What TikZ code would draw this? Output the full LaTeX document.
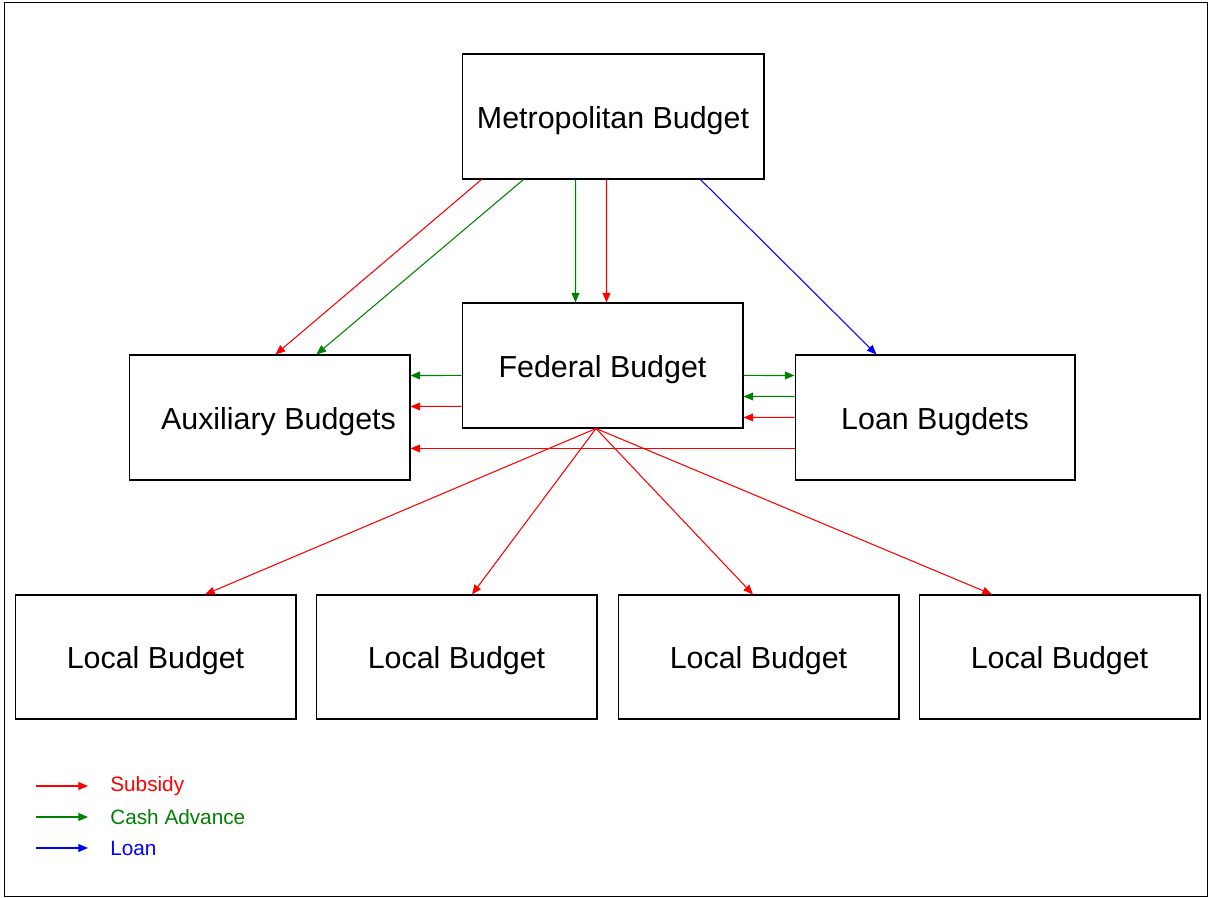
\documentclass[tikz,border=0pt]{standalone}
\usepackage{fontspec}
\setmainfont{Liberation Sans}
\usetikzlibrary{arrows.meta}

\definecolor{cashgreen}{RGB}{0,128,0}

\begin{document}
\begin{tikzpicture}[x=0.02cm, y=-0.02cm, line width=0.6pt,
  budget/.style = {draw, rectangle, minimum width=5.62cm, minimum height=2.5cm, text height=17pt, text depth=3.7pt, font=\fontsize{17.3}{20}\selectfont},
  flow/.style = {-{Triangle[length=5.5pt,width=4.5pt]}},
  sub/.style = {flow, red},
  cash/.style = {flow, cashgreen},
  loan/.style = {flow, blue},
  leg/.style = {anchor=west, font=\fontsize{11.8}{14}\selectfont}]
\useasboundingbox (0,0) rectangle (1211,898);
\draw[line width=0.5pt] (4,2) rectangle (1207,896);

\node[budget, minimum width=6.04cm] (metro) at (613,116.5) {Metropolitan Budget};
\node[budget] (fed) at (602.5,365.5) {Federal Budget};
\node[budget] (aux) at (269.5,417.5) {\hspace*{0.36cm}Auxiliary Budgets};
\node[budget, minimum width=5.6cm] (loanb) at (935,417.5) {Loan Bugdets};
\node[budget, minimum height=2.48cm] (loc1) at (155.5,657) {Local Budget};
\node[budget, minimum height=2.48cm] (loc2) at (456.5,657) {Local Budget};
\node[budget, minimum height=2.48cm] (loc3) at (758.5,657) {Local Budget};
\node[budget, minimum height=2.48cm] (loc4) at (1059.5,657) {Local Budget};

% from the metropolitan budget
\draw[sub] ([xshift=0.4cm]metro.south west) -- ([xshift=2.94cm]aux.north west);
\draw[cash] ([xshift=1.24cm]metro.south west) -- ([xshift=3.76cm]aux.north west);
\draw[cash] ([xshift=2.28cm]metro.south west) -- ([xshift=2.28cm]fed.north west);
\draw[sub] ([xshift=2.9cm]metro.south west) -- ([xshift=2.9cm]fed.north west);
\draw[loan] ([xshift=4.78cm]metro.south west) -- ([xshift=1.64cm]loanb.north west);

% between the middle row
\draw[cash] ([yshift=-1.46cm]fed.north west) -- ([yshift=-0.42cm]aux.north east);
\draw[sub] ([yshift=-2.08cm]fed.north west) -- ([yshift=-1.04cm]aux.north east);
\draw[cash] ([yshift=-1.46cm]fed.north east) -- ([yshift=-0.42cm]loanb.north west);
\draw[cash] ([yshift=-0.84cm]loanb.north west) -- ([yshift=-1.88cm]fed.north east);
\draw[sub] ([yshift=-1.26cm]loanb.north west) -- ([yshift=-2.3cm]fed.north east);
\draw[sub] ([yshift=-1.88cm]loanb.north west) -- ([yshift=-1.88cm]aux.north east);

% to the local budgets
\coordinate (hub) at ([xshift=-0.13cm]fed.south);
\draw[sub] (hub) -- ([xshift=0.99cm]loc1.north);
\draw[sub] (hub) -- ([xshift=0.31cm]loc2.north);
\draw[sub] (hub) -- ([xshift=-0.11cm]loc3.north);
\draw[sub] (hub) -- ([xshift=-1.35cm]loc4.north);

% legend
\node[leg, text=red] (l1) at (104,786) {Subsidy};
\node[leg, text=cashgreen] (l2) at (104,817) {Cash Advance};
\node[leg, text=blue] (l3) at (104,848) {Loan};
\coordinate (s1) at (36,786);
\coordinate (s2) at (36,817);
\coordinate (s3) at (36,848);
\draw[sub] (s1) -- ([xshift=-0.32cm]l1.west);
\draw[cash] (s2) -- ([xshift=-0.32cm]l2.west);
\draw[loan] (s3) -- ([xshift=-0.32cm]l3.west);
\end{tikzpicture}
\end{document}
